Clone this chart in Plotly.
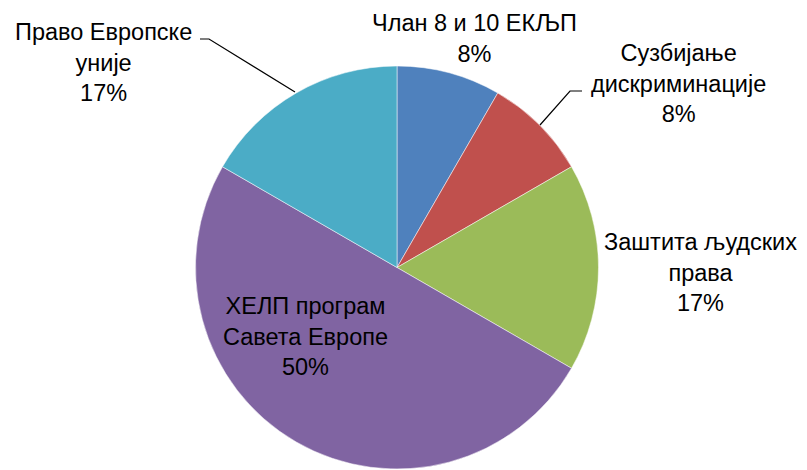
import plotly.graph_objects as go

labels = ["Члан 8 и 10 ЕКЉП", "Сузбијање дискриминације", "Заштита људских права",
          "ХЕЛП програм Савета Европе", "Право Европске уније"]
values = [1, 1, 2, 6, 2]
colors = ["#4F81BD", "#C0504D", "#9BBB59", "#8064A2", "#4BACC6"]

# label text wrapping (as in the original chart)
wrapped = ["Члан 8 и 10 ЕКЉП", "Сузбијање<br>дискриминације", "Заштита људских<br>права",
           "ХЕЛП програм<br>Савета Европе", "Право Европске<br>уније"]

OFF = 8  # page body margin in the browser
W, H = 807 - OFF, 470 - OFF


def fx(px):
    return (px - OFF) / W


def fy(py):
    return 1 - (py - OFF) / H


# label anchor positions in window pixels (center x, center y of the text block)
label_pos = [(474, 38), (678, 84), (700, 272), (305, 336), (103, 62)]

total = sum(values)
fig = go.Figure(go.Pie(
    labels=labels, values=values, sort=False, direction="clockwise", rotation=0,
    marker=dict(colors=colors, line=dict(color="white", width=0.5)),
    textinfo="none", hoverinfo="label+percent",
    domain=dict(x=[fx(194), fx(600)], y=[fy(469), fy(66)]),
    showlegend=False,
))

font = dict(family="Liberation Sans, Arial, sans-serif", size=23.5, color="#000000")
for txt, v, (px, py) in zip(wrapped, values, label_pos):
    pct = f"{round(100 * v / total)}%"
    fig.add_annotation(x=fx(px), y=fy(py), xref="paper", yref="paper",
                       text=f"{txt}<br>{pct}", showarrow=False, font=font,
                       align="center", xanchor="center", yanchor="middle")

# leader lines
leaders = [
    [(200, 39), (209, 39), (295, 92)],
    [(582, 91), (570, 91), (540, 125)],
]
for pts in leaders:
    path = "M " + " L ".join(f"{fx(x)},{fy(y)}" for x, y in pts)
    fig.add_shape(type="path", xref="paper", yref="paper", path=path,
                  line=dict(color="black", width=1.2))

fig.update_layout(width=W, height=H, margin=dict(l=0, r=0, t=0, b=0),
                  paper_bgcolor="white", plot_bgcolor="white")
fig.write_html("out.html")
